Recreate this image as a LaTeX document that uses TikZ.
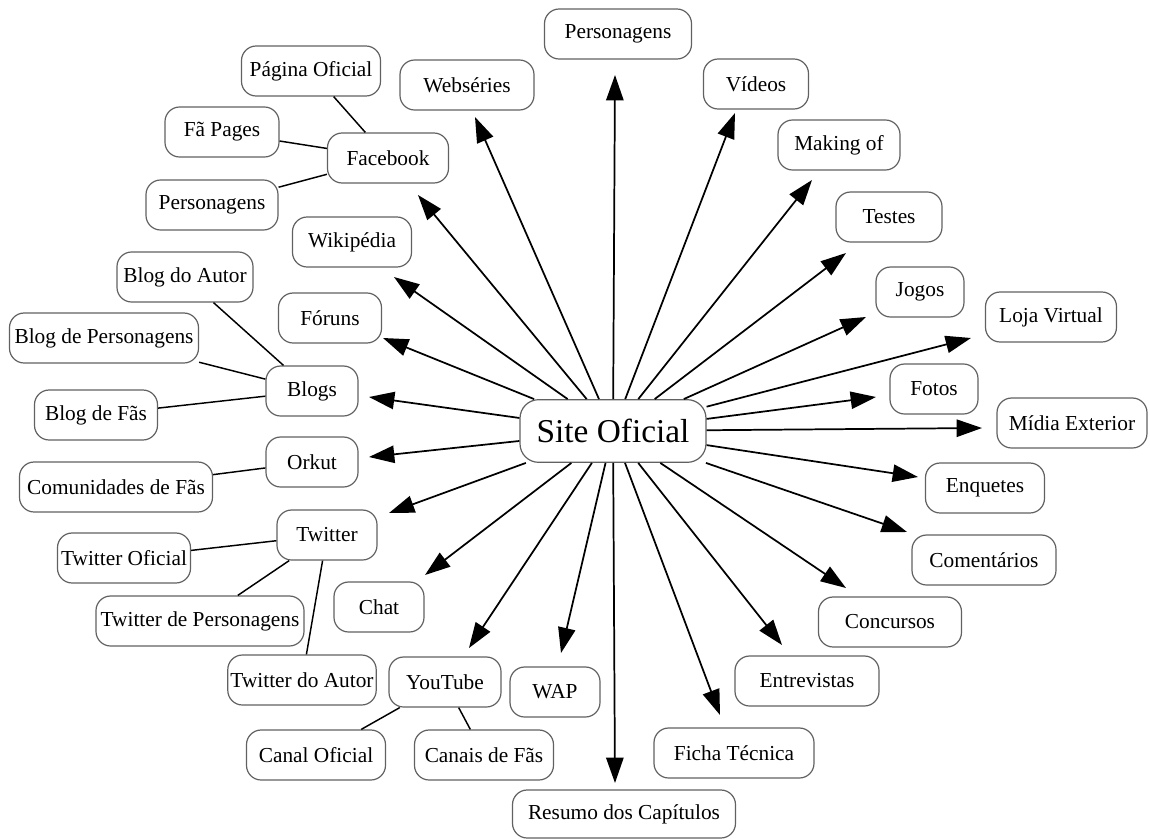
\documentclass[tikz,border=0pt]{standalone}
\usepackage{fontspec}
\setmainfont{Liberation Serif}
\usetikzlibrary{arrows.meta}
\begin{document}
\begin{tikzpicture}[x=0.75pt,y=-0.75pt,
 box/.style={draw=black!62, line width=0.9pt, rounded corners=11pt, minimum height=37.5pt, inner sep=2pt, font=\fontsize{16}{19}\selectfont, fill=white},
 bw/.style={minimum width=#1*0.75pt},
 arr/.style={line width=1.3pt, -{Triangle[length=19pt,width=13pt]}},
 sub/.style={line width=1.1pt}]
\useasboundingbox[fill=white] (0,0) rectangle (1150,839);
% central node
\node[box, bw=186, minimum height=47pt, rounded corners=14pt, font=\fontsize{25}{30}\selectfont] (site) at (613,431) {Site Oficial};
% nodes
\node[box,bw=147] (pers) at (618,34) {Personagens};
\node[box,bw=134] (webs) at (467,85) {Webséries};
\node[box,bw=105] (vid) at (756,84) {Vídeos};
\node[box,bw=139] (pag) at (311,71) {Página Oficial};
\node[box,bw=114] (fap) at (222,132) {Fã Pages};
\node[box,bw=121] (fb) at (388,158) {Facebook};
\node[box,bw=122] (mak) at (839,145) {Making of};
\node[box,bw=132] (pl) at (212,205) {Personagens};
\node[box,bw=106] (tes) at (889,217) {Testes};
\node[box,bw=119] (wik) at (352,242) {Wikipédia};
\node[box,bw=136] (bda) at (185,277) {Blog do Autor};
\node[box,bw=88] (jog) at (920,292) {Jogos};
\node[box,bw=131] (loja) at (1051,317) {Loja Virtual};
\node[box,bw=103] (forn) at (330,318) {Fóruns};
\node[box,bw=189] (bdp) at (104,338) {Blog de Personagens};
\node[box,bw=92] (blogs) at (312,391) {Blogs};
\node[box,bw=88] (fot) at (934,389) {Fotos};
\node[box,bw=123] (bdf) at (96,415) {Blog de Fãs};
\node[box,bw=150] (mid) at (1072,423) {Mídia Exterior};
\node[box,bw=92] (ork) at (312,462) {Orkut};
\node[box,bw=193] (cdf) at (116,487) {Comunidades de Fãs};
\node[box,bw=119] (enq) at (985,488) {Enquetes};
\node[box,bw=100] (tw) at (327,535) {Twitter};
\node[box,bw=133] (two) at (124,558) {Twitter Oficial};
\node[box,bw=144] (com) at (984,560) {Comentários};
\node[box,bw=208] (tdp) at (200,621) {Twitter de Personagens};
\node[box,bw=90] (chat) at (379,607) {Chat};
\node[box,bw=143] (conc) at (890,622) {Concursos};
\node[box,bw=147] (tda) at (302,680) {Twitter do Autor};
\node[box,bw=112] (yt) at (445,682) {YouTube};
\node[box,bw=90] (wap) at (555,692) {WAP};
\node[box,bw=144] (entr) at (807,681) {Entrevistas};
\node[box,bw=139] (co) at (316,755) {Canal Oficial};
\node[box,bw=139] (cnf) at (484,755) {Canais de Fãs};
\node[box,bw=160] (ficha) at (734,753) {Ficha Técnica};
\node[box,bw=223, minimum height=36pt] (res) at (624,814) {Resumo dos Capítulos};
% arrow tips
\coordinate (tPers) at (615,75);
\coordinate (tWeb) at (475,117);
\coordinate (tVid) at (735,113);
\coordinate (tFb) at (418,195);
\coordinate (tMak) at (812,180);
\coordinate (tTes) at (846,253);
\coordinate (tWik) at (394,277);
\coordinate (tJog) at (866,317);
\coordinate (tLoja) at (971,338);
\coordinate (tFor) at (383,338);
\coordinate (tFot) at (876,397);
\coordinate (tBlogs) at (369,397);
\coordinate (tMid) at (982,428);
\coordinate (tOrk) at (369,457);
\coordinate (tEnq) at (918,477);
\coordinate (tTw) at (389,513);
\coordinate (tCom) at (907,532);
\coordinate (tChat) at (425,575);
\coordinate (tConc) at (846,588);
\coordinate (tYt) at (469,648);
\coordinate (tWap) at (561,653);
\coordinate (tEntr) at (782,645);
\coordinate (tFicha) at (720,715);
\coordinate (tRes) at (615,783);
\foreach \t in {tPers,tWeb,tVid,tFb,tMak,tTes,tWik,tJog,tLoja,tFor,tFot,tBlogs,tMid,tOrk,tEnq,tTw,tCom,tChat,tConc,tYt,tWap,tEntr,tFicha,tRes}
  \draw[arr] (site) -- (\t);
% sub connectors
\draw[sub] (pag) -- (fb);
\draw[sub] (fap) -- (fb);
\draw[sub] (pl) -- (fb);
\draw[sub] (bda) -- (blogs);
\draw[sub] (bdp) -- (blogs);
\draw[sub] (bdf) -- (blogs);
\draw[sub] (cdf) -- (ork);
\draw[sub] (two) -- (tw);
\draw[sub] (tdp) -- (tw);
\draw[sub] (tda) -- (tw);
\draw[sub] (co) -- (yt);
\draw[sub] (cnf) -- (yt);
\end{tikzpicture}
\end{document}
